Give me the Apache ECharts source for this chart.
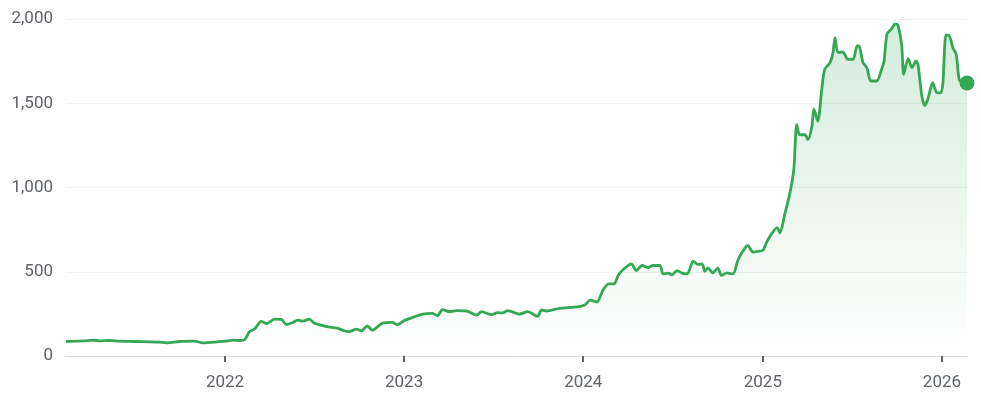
<!DOCTYPE html>
<html>
<head>
<meta charset="utf-8">
<script src="https://cdn.jsdelivr.net/npm/echarts@6/dist/echarts.min.js"></script>
<style>
  html, body { margin: 0; padding: 0; background: #fff; }
  #chart { width: 981px; height: 406px; }
</style>
</head>
<body>
<div id="chart"></div>
<script>
// dates and closing values
const dates = [
    '2021-02-11', '2021-03-01', '2021-03-21', '2021-04-06', '2021-04-21', '2021-05-11', '2021-05-31',
    '2021-07-01', '2021-07-31', '2021-08-21', '2021-09-04', '2021-09-30', '2021-10-31', '2021-11-16',
    '2021-12-11', '2022-01-01', '2022-01-17', '2022-02-01', '2022-02-10', '2022-02-20', '2022-03-02',
    '2022-03-16', '2022-03-27', '2022-04-12', '2022-04-26', '2022-05-06', '2022-05-18', '2022-05-29',
    '2022-06-08', '2022-06-22', '2022-07-02', '2022-07-27', '2022-08-18', '2022-09-01', '2022-09-11',
    '2022-09-26', '2022-10-06', '2022-10-18', '2022-10-28', '2022-11-18', '2022-12-08', '2022-12-18',
    '2023-01-01', '2023-01-19', '2023-02-08', '2023-02-28', '2023-03-10', '2023-03-20', '2023-04-04',
    '2023-04-18', '2023-05-08', '2023-05-29', '2023-06-08', '2023-06-28', '2023-07-10', '2023-07-21',
    '2023-07-31', '2023-08-24', '2023-09-10', '2023-09-30', '2023-10-08', '2023-10-18', '2023-11-14',
    '2023-12-10', '2023-12-24', '2024-01-05', '2024-01-15', '2024-01-29', '2024-02-10', '2024-02-22',
    '2024-03-04', '2024-03-12', '2024-03-22', '2024-04-08', '2024-04-18', '2024-04-30', '2024-05-12',
    '2024-05-22', '2024-06-05', '2024-06-12', '2024-06-22', '2024-06-30', '2024-07-10', '2024-07-20',
    '2024-07-31', '2024-08-12', '2024-08-22', '2024-08-30', '2024-09-05', '2024-09-11', '2024-09-21',
    '2024-10-01', '2024-10-09', '2024-10-20', '2024-11-01', '2024-11-11', '2024-11-21', '2024-12-01',
    '2024-12-12', '2024-12-22', '2025-01-01', '2025-01-09', '2025-01-19', '2025-01-30', '2025-02-05',
    '2025-02-15', '2025-02-25', '2025-03-05', '2025-03-11', '2025-03-17', '2025-03-28', '2025-04-03',
    '2025-04-11', '2025-04-15', '2025-04-23', '2025-05-01', '2025-05-07', '2025-05-18', '2025-05-24',
    '2025-05-28', '2025-06-03', '2025-06-13', '2025-06-23', '2025-07-04', '2025-07-12', '2025-07-16',
    '2025-07-24', '2025-08-01', '2025-08-09', '2025-08-21', '2025-09-01', '2025-09-05', '2025-09-11',
    '2025-09-21', '2025-09-27', '2025-10-03', '2025-10-11', '2025-10-15', '2025-10-24', '2025-11-01',
    '2025-11-09', '2025-11-13', '2025-11-21', '2025-11-27', '2025-12-03', '2025-12-13', '2025-12-22',
    '2025-12-30', '2026-01-03', '2026-01-09', '2026-01-15', '2026-01-23', '2026-01-30', '2026-02-05',
    '2026-02-13', '2026-02-21'
];
const prices = [
    86, 88, 90, 94, 90, 92, 88,
    86, 84, 82, 78, 86, 88, 78,
    82, 88, 94, 92, 96, 145, 160,
    205, 193, 219, 217, 187, 197, 213,
    207, 219, 195, 175, 165, 149, 145,
    159, 149, 179, 153, 195, 199, 185,
    210, 229, 249, 253, 239, 275, 263,
    269, 267, 243, 263, 245, 257, 256,
    269, 249, 263, 235, 273, 267, 283,
    289, 293, 305, 332, 320, 390, 428,
    428, 478, 512, 547, 507, 537, 525,
    537, 537, 487, 492, 482, 507, 492,
    487, 563, 543, 547, 503, 523, 493,
    521, 478, 493, 487, 567, 621, 657,
    617, 621, 627, 677, 726, 762, 730,
    846, 965, 1104, 1373, 1313, 1313, 1284,
    1363, 1467, 1393, 1582, 1701, 1741, 1801,
    1890, 1801, 1805, 1761, 1761, 1840, 1840,
    1741, 1711, 1632, 1632, 1711, 1751, 1910,
    1944, 1970, 1965, 1840, 1672, 1765, 1711,
    1751, 1731, 1542, 1487, 1522, 1622, 1562,
    1562, 1622, 1904, 1904, 1831, 1791, 1642,
    1620, 1620
];
const yearTicks = ['2022-01-01', '2023-01-01', '2024-01-01', '2025-01-01', '2026-01-01'];
const yTicks = [0, 500, 1000, 1500, 2000];

const green = '#34a853';
const toTime = d => Date.UTC(+d.slice(0, 4), +d.slice(5, 7) - 1, +d.slice(8, 10));

const chart = echarts.init(document.getElementById('chart'));

const seriesData = dates.map((d, i) => [toTime(d), prices[i]]);
const lastPoint = seriesData[seriesData.length - 1];
const yearStamps = yearTicks.map(toTime);

chart.setOption({
    animation: false,
    grid: {
        left: 66,
        right: 14,
        top: 19,
        bottom: 50
    },
    xAxis: {
        type: 'value',
        min: seriesData[0][0],
        max: lastPoint[0],
        axisLine: {lineStyle: {color: '#dadce0', width: 1}},
        axisTick: {
            show: true,
            customValues: yearStamps,
            length: 6,
            lineStyle: {color: '#5f6368', width: 2}
        },
        axisLabel: {
            customValues: yearStamps,
            formatter: v => String(new Date(v).getUTCFullYear()),
            color: '#5f6368',
            fontFamily: 'Roboto',
            fontSize: 17,
            margin: 18
        },
        splitLine: {show: false}
    },
    yAxis: {
        type: 'value',
        min: yTicks[0],
        max: yTicks[yTicks.length - 1],
        interval: 500,
        axisLine: {show: false},
        axisTick: {show: false},
        axisLabel: {
            color: '#5f6368',
            fontFamily: 'Roboto',
            fontSize: 17,
            margin: 13,
            formatter: v => v.toLocaleString('en-US')
        },
        splitLine: {lineStyle: {color: '#f1f3f4', width: 1}}
    },
    series: [
        {
            type: 'line',
            data: seriesData,
            showSymbol: false,
            smooth: 0.25,
            lineStyle: {color: green, width: 2.8},
            areaStyle: {
                color: new echarts.graphic.LinearGradient(0, 0, 0, 1, [
                    {offset: 0, color: 'rgba(52,168,83,0.3)'},
                    {offset: 1, color: 'rgba(52,168,83,0)'}
                ])
            },
            z: 2
        },
        {
            type: 'scatter',
            data: [lastPoint],
            symbolSize: 15,
            itemStyle: {color: green, opacity: 1},
            z: 3
        }
    ]
});
</script>
</body>
</html>
